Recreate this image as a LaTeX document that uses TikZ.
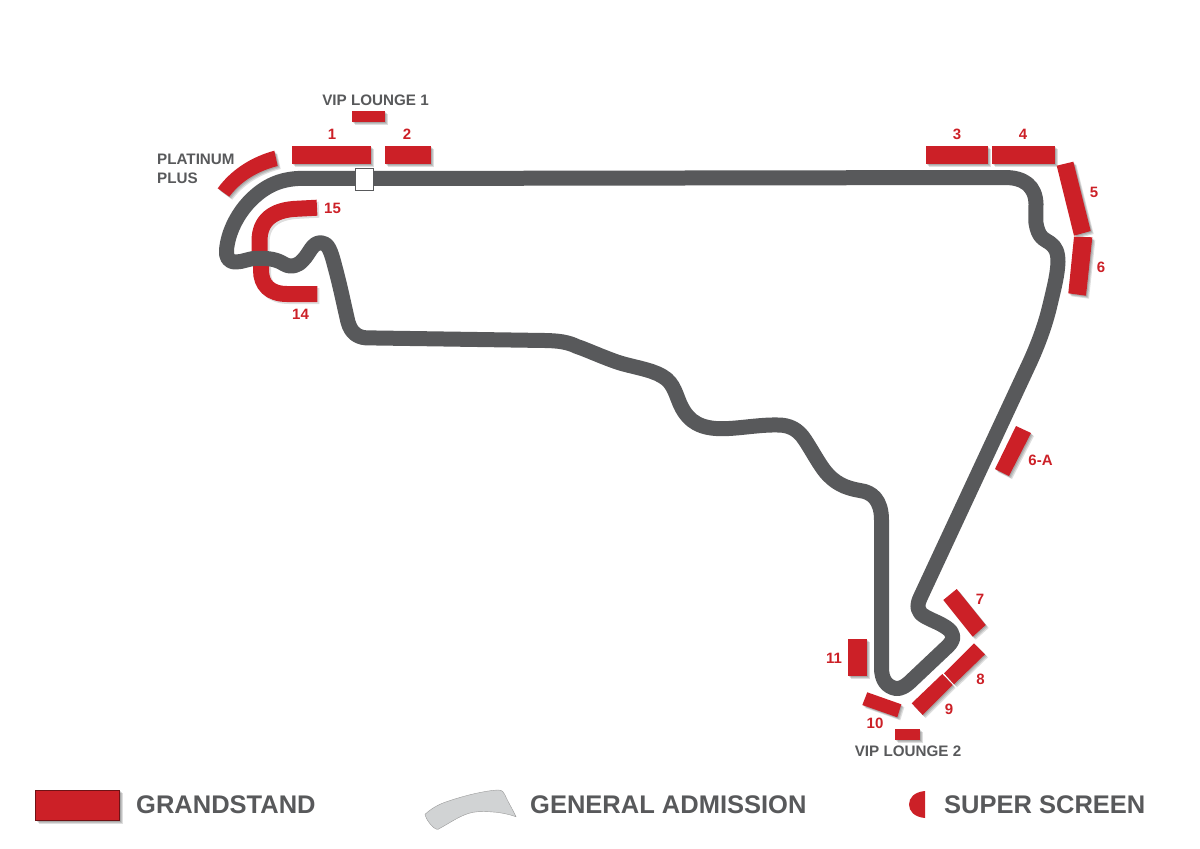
\documentclass[tikz,border=0pt]{standalone}
\usepackage{fontspec}
\setmainfont{Liberation Sans}
\usetikzlibrary{shadows}
\definecolor{standred}{HTML}{CC2027}
\definecolor{trackgrey}{HTML}{58595B}
\definecolor{gagrey}{HTML}{D1D3D4}
\tikzset{
  softshadow/.style={drop shadow={shadow xshift=#1pt,shadow yshift=-#1pt,fill=black,opacity=.13}},
  stand/.style={fill=standred,draw=none,softshadow=3,softshadow=2,softshadow=1},
  curvestand/.style={draw=standred,line width=16pt,line cap=butt},
  curveshadow/.style={draw=black,opacity=.13,line width=16pt,line cap=butt},
  trackline/.style={draw=trackgrey,line width=15pt,line join=round},
  redlabel/.style={text=standred,font=\bfseries\fontsize{15}{17}\selectfont,inner sep=0pt},
  greylabel/.style={text=trackgrey,font=\bfseries\fontsize{15.2}{17}\selectfont,inner sep=0pt},
  legendlabel/.style={text=trackgrey,font=\bfseries\fontsize{25.5}{27}\selectfont,inner sep=0pt,anchor=west}
}
\begin{document}
\begin{tikzpicture}[x=1pt,y=-1pt]
\useasboundingbox (0,0) rectangle (1200,849);
% stands
\path[stand] (291.7,145.7) rectangle (371,164);
\path[stand] (385,145.7) rectangle (431,164);
\path[stand] (352.3,110.7) rectangle (385.3,121.7);
\path[stand] (925.7,145.7) rectangle (988.3,164);
\path[stand] (991.7,145.7) rectangle (1055,164);
\path[stand] (1056.7,165.7) -- (1073.3,161.7) -- (1090.7,231) -- (1074,235.7) -- cycle;
\path[stand] (1074,236.7) -- (1092.3,237.3) -- (1086,295.7) -- (1068.3,293.3) -- cycle;
\path[stand] (1016,426) -- (1031,433) -- (1009,476) -- (995,469) -- cycle;
\path[stand] (956.7,589) -- (943.3,600) -- (972.7,636.7) -- (985.7,625) -- cycle;
\path[stand] (974,643.3) -- (985,654.3) -- (954,684.3) -- (944,673.3) -- cycle;
\path[stand] (942.3,674) -- (952.7,685) -- (922.7,715) -- (911.7,703.3) -- cycle;
\path[stand] (848,639.3) rectangle (866.7,676);
\path[stand] (867.3,692.3) -- (901.3,704.3) -- (897.3,717.3) -- (862.3,705) -- cycle;
\path[stand] (894.7,729) rectangle (920.3,740);
\path[stand] (274.3,150.7) -- (277.7,166) .. controls (258,171) and (241,181) .. (229.3,196.7) -- (217.7,188.3) .. controls (231,170) and (251,157) .. (274.3,150.7) -- cycle;
\begin{scope}[shift={(2,2)}]
\draw[curveshadow] (317,207.7) -- (298,208.7) .. controls (272,209.5) and (259.5,221) .. (259.5,241) -- (259.5,252);
\draw[curveshadow] (261,264) -- (261,270) .. controls (261,285) and (270,294) .. (287,294) -- (317.3,294);
\end{scope}
\draw[curvestand] (317,207.7) -- (298,208.7) .. controls (272,209.5) and (259.5,221) .. (259.5,241) -- (259.5,252);
\draw[curvestand] (261,264) -- (261,270) .. controls (261,285) and (270,294) .. (287,294) -- (317.3,294);
% track
\draw[trackline]
  (360,178.5) -- (1005,177.5)
  .. controls (1024,177.5) and (1035.5,186) .. (1036,204)
  .. controls (1036,215) and (1035,222) .. (1037,228)
  .. controls (1040,239) and (1046,240) .. (1050,243)
  .. controls (1056,247) and (1058,253) .. (1058,262)
  .. controls (1057.5,275) and (1054,288) .. (1050,305)
  .. controls (1047,318) and (1041,338) .. (1030,362)
  -- (921,596)
  .. controls (916,606) and (917,612) .. (925,616.5)
  .. controls (932,620.5) and (940,623) .. (947,628)
  .. controls (954,633) and (955,639) .. (948,646)
  -- (912,680)
  .. controls (905,687) and (900,689) .. (896,688.5)
  .. controls (887,687) and (881.5,680) .. (881.5,668)
  -- (881.5,520)
  .. controls (881.5,500) and (872,492) .. (860,490.5)
  .. controls (845,488) and (834,483) .. (824,470)
  .. controls (818,462) and (811,449) .. (805,440)
  .. controls (798,429) and (789,425) .. (778,425)
  .. controls (760,424.5) and (740,428.5) .. (723,428.7)
  .. controls (700,429) and (689,421) .. (682,408)
  .. controls (676,397) and (675,383) .. (662,376)
  .. controls (650,369) and (632,367) .. (617,362)
  .. controls (600,356) and (585,349) .. (577,346.5)
  .. controls (568,342) and (558,340.7) .. (545,340.5)
  -- (370,337.9)
  .. controls (358,338.5) and (351,333) .. (348,322)
  .. controls (344,305) and (340,285) .. (335,267)
  .. controls (331,251) and (328,242.7) .. (321,242.7)
  .. controls (312,242.7) and (310,253) .. (303,260)
  .. controls (298,266) and (291,268) .. (284,264)
  .. controls (277,259.5) and (269,258) .. (257,258.3)
  .. controls (248,258.5) and (243,262) .. (236,262)
  .. controls (228,262) and (226,257) .. (226.5,250)
  .. controls (228,232) and (238,212) .. (253,198)
  .. controls (268,184) and (283,178.5) .. (303,178.3)
  -- cycle;
\node[draw=trackgrey,fill=white,line width=.8pt,minimum width=18pt,minimum height=22pt,inner sep=0pt] (startline) at (364.5,179.3) {};
% labels
\node[greylabel] (vip1) at (375.5,100) {VIP LOUNGE 1};
\node[greylabel] (vip2) at (908,751) {VIP LOUNGE 2};
\node[greylabel,anchor=west] (plat) at (157,159) {PLATINUM};
\node[greylabel,anchor=west] (plus) at (157,178) {PLUS};
\node[redlabel] (l1) at (332,134) {1};
\node[redlabel] (l2) at (407,134) {2};
\node[redlabel] (l3) at (957,134) {3};
\node[redlabel] (l4) at (1023,134) {4};
\node[redlabel] (l5) at (1094,192.5) {5};
\node[redlabel] (l6) at (1101,267) {6};
\node[redlabel] (l6a) at (1040.5,460) {6-A};
\node[redlabel] (l7) at (980,599.5) {7};
\node[redlabel] (l8) at (980.5,679) {8};
\node[redlabel] (l9) at (949,709) {9};
\node[redlabel] (l10) at (875,723) {10};
\node[redlabel] (l11) at (834,658) {11};
\node[redlabel] (l14) at (300.5,314) {14};
\node[redlabel] (l15) at (332.5,208) {15};
% legend
\path[stand] (35.5,790.3) rectangle (119.5,820.7);
\path[draw=black!45!standred,line width=.6pt] (35.5,790.3) rectangle (119.5,820.7);
\node[legendlabel] (lg1) at (136,805) {GRANDSTAND};
\path[fill=gagrey,draw=black!40,line width=.4pt] (425,814.3) .. controls (432,808) and (438,805) .. (443,803) .. controls (455,798.5) and (480,791) .. (498,790) .. controls (502,790) and (504,792) .. (505,795) .. controls (508,802) and (513,810) .. (516,816.7) .. controls (508,814) and (502,813) .. (496.7,812.3) .. controls (487,811.5) and (480,811) .. (473,812.3) .. controls (461,814.5) and (450,823) .. (438,829.3) .. controls (434,830) and (426,820) .. (425,814.3) -- cycle;
\node[legendlabel] (lg2) at (530,805) {GENERAL ADMISSION};
\path[fill=standred] (925,791) .. controls (914,792) and (909,798) .. (909,804.5) .. controls (909,811) and (914,817) .. (925,818) -- cycle;
\node[legendlabel] (lg3) at (944,805) {SUPER SCREEN};
\end{tikzpicture}
\end{document}
